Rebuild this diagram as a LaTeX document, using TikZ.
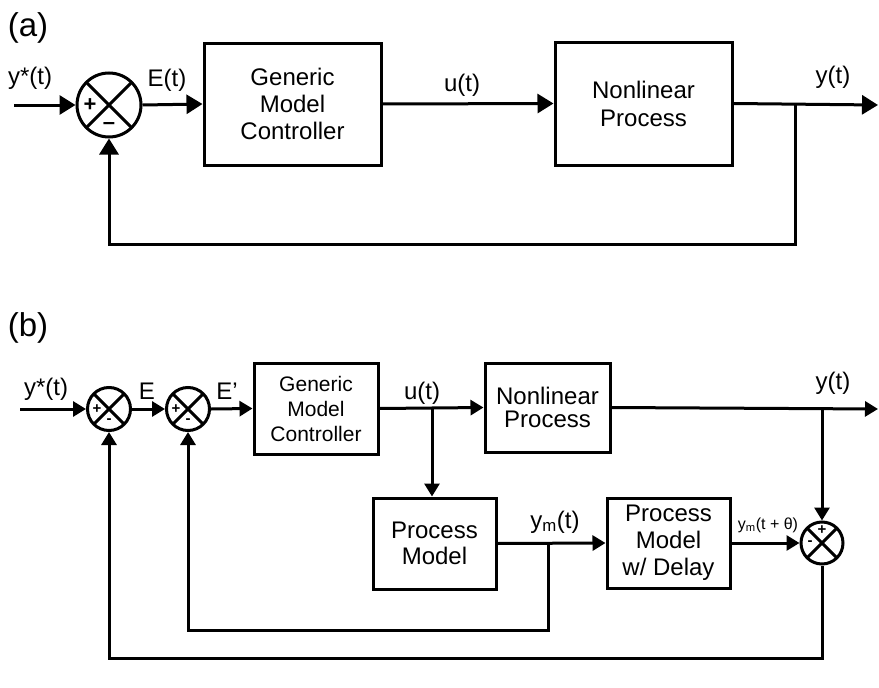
\documentclass[tikz,border=0pt]{standalone}
\usepackage{fontspec}
\setmainfont{Liberation Sans}
\usetikzlibrary{arrows.meta}
\def\rowa{105}
\def\rowb{409}
\def\rowm{543}

\tikzset{
	blk/.style={draw, rectangle, align=center, inner sep=0pt},
	sumjunc/.style={draw, circle, inner sep=0pt,
		path picture={\draw (path picture bounding box.north west) -- (path picture bounding box.south east)
			(path picture bounding box.north east) -- (path picture bounding box.south west);}},
	lbl/.style={inner sep=0pt, font=\fontsize{24}{28}\selectfont},
	siga/.style={inner sep=0pt, font=\fontsize{22}{22}\selectfont\bfseries},
	sigb/.style={inner sep=0pt, font=\fontsize{15}{15}\selectfont\bfseries},
	fwda/.style={-{Triangle[length=16pt,width=19pt]}},
	fwdb/.style={-{Triangle[length=13pt,width=15pt]}},
}

\begin{document}
\begin{tikzpicture}[x=1pt, y=-1pt, line width=3pt]
	\useasboundingbox (0,0) rectangle (879,688);

	% (a)
	\node[inner sep=0pt, font=\fontsize{33}{36}\selectfont] (taga) at (28,28) {(a)};
	\coordinate (ina) at (14,\rowa);
	\node[sumjunc, minimum size=64pt] (suma) at (109,\rowa) {};
	\node[siga] (suma+) at ([shift={(-19,0)}]suma.center) {+};
	\node[siga] (suma-) at ([shift={(0,21)}]suma.center) {\textendash};
	\node[blk, minimum width=177pt, minimum height=122pt, font=\fontsize{24}{27}\selectfont] (gmca) at (292.5,104) {Generic\\Model\\Controller};
	\node[blk, minimum width=177pt, minimum height=123pt, font=\fontsize{24}{28}\selectfont] (npa) at (643.5,103.5) {Nonlinear\\Process};
	\coordinate (outa) at (878,\rowa);
	\coordinate (bra) at (795,\rowa);
	\coordinate (fba) at (795,244);
	\node[lbl] (ystara) at (30,78) {y*(t)};
	\node[lbl] (ea) at (167,80) {E(t)};
	\node[lbl] (ua) at (462,85) {u(t)};
	\node[lbl] (ya) at (833,77) {y(t)};

	\draw[fwda] (ina) -- (suma.west);
	\draw[fwda] (suma.east) -- (gmca.west);
	\draw[fwda] (gmca.east) -- (npa.west);
	\draw[fwda] (npa.east) -- (outa);
	\draw[fwda] (bra) -- (fba) -| (suma.south);

	% (b)
	\node[inner sep=0pt, font=\fontsize{33}{36}\selectfont] (tagb) at (28,328) {(b)};
	\coordinate (inb) at (20,\rowb);
	\node[sumjunc, minimum size=43pt] (sumb) at (109,\rowb) {};
	\node[sigb] (sumb+) at ([shift={(-12,0)}]sumb.center) {+};
	\node[sigb] (sumb-) at ([shift={(0,12)}]sumb.center) {-};
	\node[sumjunc, minimum size=43pt] (sumc) at (188,\rowb) {};
	\node[sigb] (sumc+) at ([shift={(-12,0)}]sumc.center) {+};
	\node[sigb] (sumc-) at ([shift={(0,12)}]sumc.center) {-};
	\node[blk, minimum width=124pt, minimum height=91pt, font=\fontsize{21}{25}\selectfont] (gmcb) at (316,408.5) {Generic\\Model\\Controller};
	\node[blk, minimum width=125pt, minimum height=89pt, font=\fontsize{24}{23}\selectfont] (npb) at (547.5,407.5) {Nonlinear\\Process};
	\node[blk, minimum width=123pt, minimum height=91pt, font=\fontsize{24}{26}\selectfont] (pm) at (434.5,543.5) {Process\\Model};
	\node[blk, minimum width=123pt, minimum height=90pt, font=\fontsize{24}{27}\selectfont] (pmd) at (668.5,543) {Process\\Model\\w/ Delay};
	\node[sumjunc, minimum size=42pt] (sumd) at (822,\rowm) {};
	\node[sigb] (sumd+) at ([shift={(0,-13)}]sumd.center) {+};
	\node[sigb] (sumd-) at ([shift={(-12,0)}]sumd.center) {-};
	\coordinate (outb) at (878,\rowb);
	\coordinate (bru) at (432,\rowb);
	\coordinate (bry) at (822,\rowb);
	\coordinate (brm) at (548,\rowm);
	\coordinate (fbm) at (548,630);
	\coordinate (fbd) at (822,658);
	\node[lbl] (ystarb) at (46,389) {y*(t)};
	\node[lbl] (eb) at (147,391) {E};
	\node[lbl] (epb) at (227,391) {E'};
	\node[lbl] (ub) at (422,393) {u(t)};
	\node[lbl] (yb) at (833,383) {y(t)};
	\node[lbl] (ymb) at (555,522) {y\textsubscript{m}(t)};
	\node[inner sep=0pt, font=\fontsize{16}{18}\selectfont] (ymdb) at (768,525) {y\textsubscript{m}(t + θ)};

	\draw[fwdb] (inb) -- (sumb.west);
	\draw[fwdb] (sumb.east) -- (sumc.west);
	\draw[fwdb] (sumc.east) -- (gmcb.west);
	\draw[fwdb] (gmcb.east) -- (npb.west);
	\draw[fwdb] (npb.east) -- (outb);
	\draw[fwdb] (bru) -- (bru |- pm.north);
	\draw[fwdb] (pm.east) -- (pmd.west);
	\draw[fwdb] (pmd.east) -- (sumd.west);
	\draw[fwdb] (bry) -- (sumd.north);
	\draw[fwdb] (brm) -- (fbm) -| (sumc.south);
	\draw[fwdb] (sumd.south) -- (fbd) -| (sumb.south);
\end{tikzpicture}
\end{document}
